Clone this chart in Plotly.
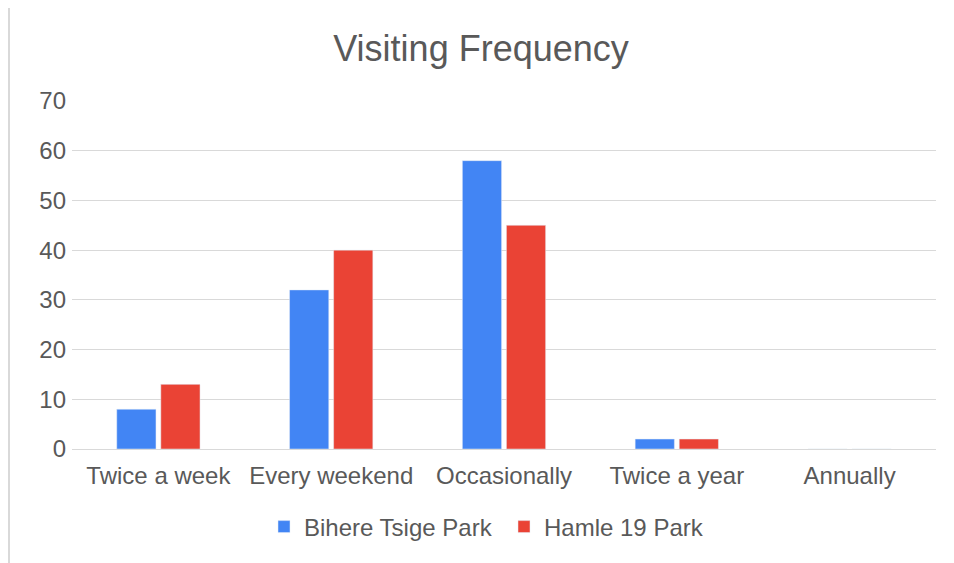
import plotly.graph_objects as go

categories = ['Twice a week', 'Every weekend', 'Occasionally', 'Twice a year', 'Annually']
bihere_tsige = [8, 32, 58, 2, 0]
hamle_19 = [13, 40, 45, 2, 0]

FONT = 'Liberation Sans, Arial, sans-serif'
GREY = '#595959'
GRID = '#d9d9d9'

# the page body has an 8px margin, so lay out in page px minus 8
OFF = 8
FW, FH = 954 - OFF, 563 - OFF
L, R, T, B = 72 - OFF, FW - (936 - OFF), 101 - OFF, FH - (449 - OFF)
W, H = FW - L - R, FH - T - B


def px_x(p):
    return (p - OFF - L) / W


def px_y(p):
    return (FH - B - (p - OFF)) / H


fig = go.Figure()

fig.add_trace(go.Bar(
    x=categories,
    y=bihere_tsige,
    name='Bihere Tsige Park',
    marker_color='#4285F4'
))

fig.add_trace(go.Bar(
    x=categories,
    y=hamle_19,
    name='Hamle 19 Park',
    marker_color='#EA4335'
))

fig.update_layout(
    width=FW,
    height=FH,
    margin=dict(l=L, r=R, t=T, b=B),
    paper_bgcolor='white',
    plot_bgcolor='white',
    barmode='group',
    bargap=0.49,
    bargroupgap=0.11,
    font=dict(family=FONT, size=24, color=GREY),
    title=dict(
        text='Visiting Frequency',
        x=0.5,
        xanchor='center',
        y=1 - (48 - OFF) / FH,
        yanchor='middle',
        font=dict(family=FONT, size=36, color=GREY)
    ),
    xaxis=dict(
        showgrid=False,
        showline=False,
        ticks='',
        ticklabelstandoff=10,
        tickfont=dict(size=24, color=GREY),
    ),
    yaxis=dict(
        range=[0, 70],
        dtick=10,
        showgrid=True,
        gridcolor=GRID,
        gridwidth=1,
        zeroline=True,
        zerolinecolor=GRID,
        zerolinewidth=1,
        showline=False,
        ticks='',
        ticklabelstandoff=5,
        tickfont=dict(size=24, color=GREY),
    ),
    legend=dict(
        orientation='h',
        x=0.5,
        xanchor='center',
        y=px_y(527),
        yanchor='middle',
        font=dict(size=24, color=GREY),
        entrywidth=195,
        itemwidth=30,
    ),
    shapes=[
        dict(type='line', xref='paper', yref='paper',
             x0=px_x(9), x1=px_x(9), y0=px_y(8), y1=px_y(563),
             line=dict(color=GRID, width=2)),
    ],
)

fig.write_html("out.html")
